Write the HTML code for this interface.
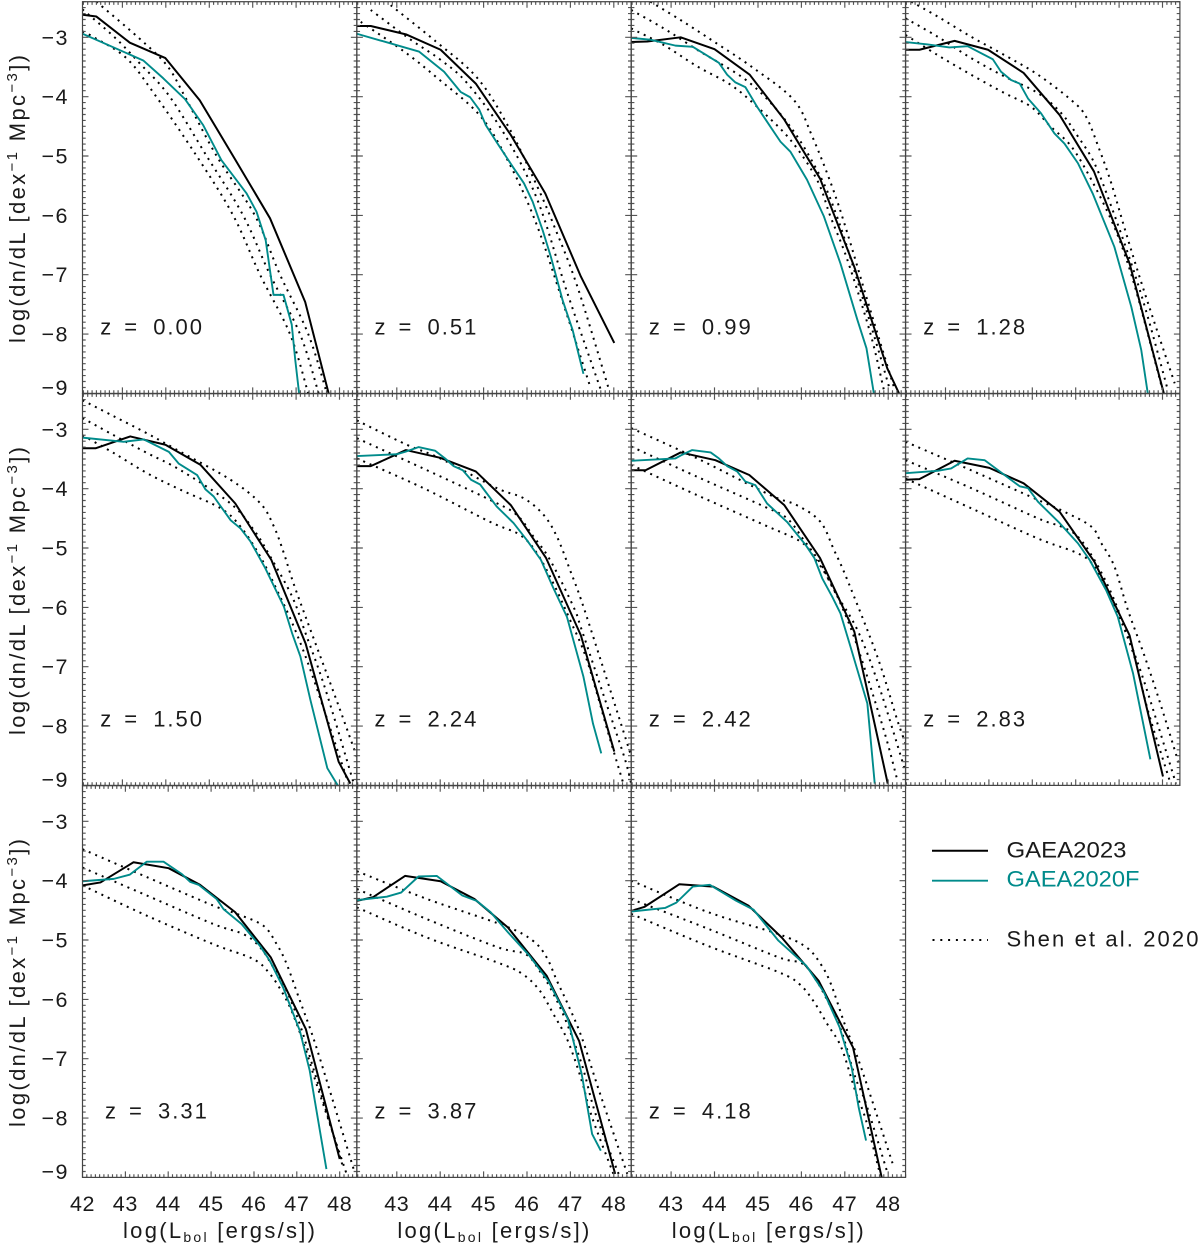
<!DOCTYPE html>
<html lang="en">
<head>
<meta charset="utf-8">
<title>Bolometric luminosity functions: GAEA2023, GAEA2020F and Shen et al. 2020</title>
<style>
html,body{margin:0;padding:0;background:#fff;}
svg{display:block;font-family:"Liberation Sans",sans-serif;}
text{fill:#1a1a1a;}
</style>
</head>
<body>
<svg id="chart" xmlns="http://www.w3.org/2000/svg" width="1200" height="1246" viewBox="0 0 1200 1246">
  <rect width="1200" height="1246" fill="#fff"></rect>
  <g id="panels"></g>
  <g>
    <line x1="932" y1="850.7" x2="988" y2="850.7" stroke="#000" stroke-width="2"></line>
    <text x="1006.5" y="857.7" font-size="22" textLength="120" lengthAdjust="spacingAndGlyphs">GAEA2023</text>
    <line x1="932" y1="880.7" x2="988" y2="880.7" stroke="#008b8b" stroke-width="1.9"></line>
    <text x="1006.5" y="886.7" font-size="22" textLength="133" lengthAdjust="spacingAndGlyphs" style="fill:#008b8b">GAEA2020F</text>
    <line x1="932.5" y1="940" x2="988" y2="940" stroke="#000" stroke-width="2" stroke-dasharray="2 5.8"></line>
    <text x="1006.5" y="946.7" font-size="22" textLength="192" lengthAdjust="spacing">Shen et al. 2020</text>
  </g>
</svg>
<script>
// ---- tick labels ----
const xTickLabels = [42, 43, 44, 45, 46, 47, 48];
const yTickLabels = [-3, -4, -5, -6, -7, -8, -9];

// ---- z = 0.00 ----
const z000Black = [[42.08,-2.62],[42.4,-2.65],[43.17,-3.09],[43.99,-3.35],[44.78,-4.06],[45.59,-5.05],[46.4,-6.05],[47.21,-7.46],[47.75,-9.0]];
const z000Teal = [[42.08,-2.94],[43.48,-3.39],[43.94,-3.69],[44.44,-4.04],[44.86,-4.48],[45.28,-5.07],[45.86,-5.63],[46.09,-5.94],[46.3,-6.42],[46.48,-7.34],[46.71,-7.34],[46.9,-7.84],[46.98,-8.43],[47.07,-9.0]];
const z000ShenLow = [[42.08,-2.9],[42.32,-2.99],[43.09,-3.35],[43.75,-3.97],[44.71,-5],[45.55,-6],[46.17,-7],[46.86,-8],[47.28,-9]];
const z000ShenMid = [[42.08,-2.53],[42.82,-3],[43.4,-3.44],[44.09,-4],[44.94,-5],[45.78,-6],[46.4,-7],[47.09,-8],[47.52,-9]];
const z000ShenTop = [[42.4,-2.4],[43.36,-3],[44.02,-3.47],[44.44,-4],[45.17,-5],[46.05,-6],[46.63,-7],[47.28,-8],[47.71,-9]];

// ---- z = 0.51 ----
const z051Black = [[42.08,-2.81],[42.4,-2.81],[43.21,-2.95],[44.01,-3.21],[44.82,-3.78],[45.63,-4.65],[46.42,-5.63],[47.24,-7.03],[48.01,-8.15]];
const z051Teal = [[42.08,-2.94],[43.51,-3.24],[44.09,-3.58],[44.47,-3.92],[44.69,-4.01],[44.9,-4.22],[45.05,-4.48],[45.32,-4.79],[45.67,-5.18],[45.93,-5.46],[46.13,-5.77],[46.36,-6.25],[46.55,-6.7],[46.82,-7.43],[47.05,-7.93],[47.3,-8.67]];
const z051ShenTop = [[42.86,-2.46],[43.9,-3.07],[44.86,-3.69],[45.59,-4.53],[46.24,-5.52],[46.63,-6.19],[47.16,-7.2],[47.89,-8.94]];
const z051ShenMid = [[42.4,-2.54],[43.32,-3.04],[44.01,-3.38],[44.63,-3.78],[45.47,-4.62],[46.24,-5.74],[46.93,-7.31],[47.7,-8.94]];
const z051ShenLow = [[42.17,-2.74],[43.17,-3.24],[43.94,-3.69],[44.94,-4.34],[45.63,-5.18],[46.24,-6.19],[46.86,-7.54],[47.47,-8.92]];

// ---- z = 0.99 ----
const z099Black = [[42.08,-3.08],[42.45,-3.07],[43.22,-3],[44,-3.2],[44.81,-3.63],[45.61,-4.39],[46.43,-5.38],[47.22,-6.87],[47.98,-8.58],[48.25,-9]];
const z099Teal = [[42.08,-3.01],[42.52,-3.04],[43.1,-3.14],[43.5,-3.16],[44.1,-3.43],[44.29,-3.63],[44.48,-3.76],[44.71,-3.84],[44.98,-4.17],[45.29,-4.51],[45.52,-4.76],[45.75,-4.93],[46.13,-5.4],[46.52,-6.02],[46.9,-6.81],[47.29,-7.76],[47.5,-8.24],[47.67,-9]];
const z099ShenTop = [[42.52,-2.4],[43.22,-2.71],[43.98,-3.07],[44.9,-3.52],[45.83,-4.06],[46.25,-4.67],[46.71,-5.52],[47.06,-6.3],[47.52,-7.43],[48.13,-8.89]];
const z099ShenMid = [[42.08,-2.54],[42.83,-2.85],[43.6,-3.21],[44.83,-3.78],[45.75,-4.51],[46.44,-5.35],[46.82,-6.02],[47.17,-6.81],[47.75,-8.21],[48.02,-8.89]];
const z099ShenLow = [[42.08,-2.85],[42.83,-3.13],[43.6,-3.49],[44.37,-3.8],[44.98,-4.17],[45.75,-4.73],[46.36,-5.4],[46.67,-6.02],[47.06,-6.75],[47.59,-7.99],[47.9,-8.94]];

// ---- z = 1.28 ----
const z128Black = [[42.08,-3.21],[42.4,-3.21],[43.21,-3.06],[43.98,-3.21],[44.8,-3.6],[45.63,-4.31],[46.42,-5.26],[47.24,-6.81],[48.03,-9]];
const z128Teal = [[42.08,-3.08],[42.59,-3.12],[43.09,-3.17],[43.51,-3.15],[44.09,-3.37],[44.28,-3.58],[44.51,-3.72],[44.71,-3.78],[44.9,-4.03],[45.2,-4.28],[45.51,-4.62],[45.74,-4.79],[46.05,-5.12],[46.39,-5.63],[46.89,-6.53],[47.28,-7.54],[47.51,-8.27],[47.66,-9]];
const z128ShenTop = [[42.21,-2.4],[42.82,-2.65],[43.59,-2.99],[44.36,-3.3],[45.13,-3.63],[45.9,-4.06],[46.24,-4.34],[46.55,-4.9],[46.82,-5.46],[47.16,-6.3],[47.59,-7.31],[48.28,-8.83]];
const z128ShenMid = [[42.08,-2.68],[42.82,-2.99],[43.59,-3.35],[44.36,-3.66],[45.13,-3.94],[45.67,-4.28],[46.05,-4.67],[46.43,-5.12],[46.82,-5.85],[47.28,-6.81],[47.66,-7.71],[48.12,-8.94]];
const z128ShenLow = [[42.08,-2.96],[42.82,-3.3],[43.59,-3.63],[44.36,-3.94],[44.97,-4.17],[45.43,-4.51],[45.9,-4.84],[46.36,-5.4],[46.82,-6.08],[47.12,-6.64],[47.43,-7.37],[48.0,-8.94]];

// ---- z = 1.50 ----
const z150Black = [[42.08,-3.32],[42.38,-3.32],[43.18,-3.12],[43.99,-3.26],[44.8,-3.6],[45.6,-4.25],[46.43,-5.2],[47.22,-6.61],[47.98,-8.6],[48.25,-8.97]];
const z150Teal = [[42.08,-3.14],[43.03,-3.21],[43.49,-3.17],[44.07,-3.38],[44.3,-3.58],[44.72,-3.77],[44.91,-4.01],[45.1,-4.13],[45.49,-4.53],[45.72,-4.67],[45.95,-4.89],[46.29,-5.34],[46.72,-5.99],[46.91,-6.44],[47.1,-6.83],[47.33,-7.56],[47.72,-8.71],[47.96,-9]];
const z150ShenTop = [[42.08,-2.51],[42.8,-2.78],[43.57,-3.07],[44.34,-3.38],[45.49,-3.85],[46.18,-4.25],[46.49,-4.64],[46.72,-5.09],[47.02,-5.76],[47.93,-7.56],[48.4,-8.52]];
const z150ShenMid = [[42.08,-2.81],[42.8,-3.1],[43.57,-3.4],[44.34,-3.69],[45.49,-4.25],[46.03,-4.7],[46.41,-5.15],[46.91,-5.82],[47.22,-6.44],[47.68,-7.39],[48.33,-8.97]];
const z150ShenLow = [[42.08,-3.1],[42.8,-3.4],[43.57,-3.74],[44.34,-4.02],[45.26,-4.33],[45.72,-4.64],[46.18,-5.15],[46.56,-5.71],[46.95,-6.33],[47.41,-7.22],[48.18,-8.91]];

// ---- z = 2.24 ----
const z224Black = [[42.08,-3.62],[42.4,-3.62],[43.21,-3.35],[44,-3.48],[44.82,-3.71],[45.63,-4.28],[46.44,-5.17],[47.24,-6.47],[48.01,-8.43]];
const z224Teal = [[42.08,-3.45],[43,-3.42],[43.19,-3.38],[43.5,-3.3],[43.88,-3.36],[44.11,-3.49],[44.31,-3.62],[44.52,-3.69],[44.71,-3.85],[44.92,-3.93],[45.3,-4.3],[45.69,-4.58],[46,-4.87],[46.32,-5.2],[46.61,-5.68],[46.92,-6.16],[47.3,-7.17],[47.52,-7.96],[47.71,-8.46]];
const z224ShenTop = [[42.08,-2.85],[43.23,-3.26],[44,-3.49],[45.3,-3.99],[45.92,-4.16],[46.38,-4.44],[46.69,-4.81],[46.99,-5.37],[47.3,-5.99],[47.99,-7.56],[48.38,-8.46]];
const z224ShenMid = [[42.08,-3.15],[43.61,-3.66],[45.15,-4.19],[45.76,-4.44],[46.15,-4.81],[46.53,-5.2],[47.07,-5.99],[47.26,-6.38],[47.8,-7.56],[48.24,-8.52],[48.4,-8.97]];
const z224ShenLow = [[42.08,-3.49],[43.61,-3.99],[45.15,-4.56],[45.84,-4.78],[46.23,-5.09],[46.61,-5.6],[46.99,-6.21],[47.38,-6.89],[47.92,-8.24],[48.22,-8.97]];

// ---- z = 2.42 ----
const z242Black = [[42.08,-3.69],[42.41,-3.69],[43.22,-3.39],[44.02,-3.52],[44.8,-3.77],[45.61,-4.28],[46.43,-5.17],[47.22,-6.41],[47.99,-8.97]];
const z242Teal = [[42.08,-3.53],[43.1,-3.49],[43.25,-3.43],[43.48,-3.35],[43.91,-3.39],[44.1,-3.49],[44.29,-3.62],[44.52,-3.71],[44.71,-3.88],[44.94,-3.94],[45.21,-4.25],[45.67,-4.56],[46.1,-4.95],[46.3,-5.17],[46.48,-5.51],[46.71,-5.82],[46.9,-6.1],[47.13,-6.66],[47.52,-7.62],[47.69,-8.97]];
const z242ShenTop = [[42.08,-2.98],[43.6,-3.49],[45.29,-4.11],[45.9,-4.28],[46.44,-4.56],[46.75,-5.03],[47.06,-5.54],[47.75,-6.83],[48.21,-7.9],[48.4,-8.29]];
const z242ShenMid = [[42.08,-3.29],[43.6,-3.8],[45.14,-4.3],[45.67,-4.5],[46.06,-4.87],[46.44,-5.26],[46.75,-5.71],[47.29,-6.38],[47.78,-7.31],[48.4,-8.77]];
const z242ShenLow = [[42.08,-3.6],[43.6,-4.11],[45.14,-4.61],[45.98,-4.89],[46.29,-5.15],[46.59,-5.48],[46.9,-5.93],[47.29,-6.66],[47.9,-8.07],[48.21,-8.91]];

// ---- z = 2.83 ----
const z283Black = [[42.08,-3.85],[42.4,-3.84],[43.21,-3.53],[44.01,-3.65],[44.8,-3.91],[45.63,-4.39],[46.43,-5.23],[47.24,-6.47],[48.01,-8.85]];
const z283Teal = [[42.08,-3.74],[42.82,-3.7],[43.13,-3.66],[43.51,-3.49],[43.9,-3.52],[44.36,-3.77],[44.71,-3.96],[44.9,-3.99],[45.13,-4.22],[45.63,-4.58],[46.05,-4.92],[46.32,-5.2],[46.7,-5.71],[46.97,-6.16],[47.32,-7.11],[47.72,-8.56]];
const z283ShenTop = [[42.08,-3.21],[43.59,-3.69],[45.13,-4.19],[45.74,-4.39],[46.36,-4.64],[46.59,-4.92],[46.89,-5.31],[47.2,-6.04],[47.59,-6.83],[47.97,-7.67],[48.4,-8.69]];
const z283ShenMid = [[42.08,-3.52],[43.59,-3.99],[45.13,-4.5],[45.67,-4.64],[46.05,-4.81],[46.43,-5.2],[46.82,-5.76],[47.12,-6.33],[47.59,-7.28],[48.31,-8.97]];
const z283ShenLow = [[42.08,-3.83],[43.59,-4.33],[45.13,-4.84],[46.05,-5.09],[46.43,-5.31],[46.74,-5.76],[46.97,-6.1],[47.35,-6.83],[47.66,-7.73],[48.16,-8.91]];

// ---- z = 3.31 ----
const z331Black = [[42,-4.08],[42.42,-4.03],[43.19,-3.69],[44.01,-3.79],[44.74,-4.07],[45.56,-4.53],[46.39,-5.29],[47.21,-6.5],[48,-8.69]];
const z331Teal = [[42,-4.01],[42.73,-3.97],[43.1,-3.9],[43.5,-3.68],[43.89,-3.68],[44.32,-3.89],[44.51,-4.02],[44.71,-4.07],[45.13,-4.31],[45.29,-4.48],[45.71,-4.73],[46.14,-5.1],[46.37,-5.35],[46.68,-5.8],[47.07,-6.53],[47.3,-7.2],[47.69,-8.86]];
const z331ShenTop = [[42,-3.47],[43.5,-3.94],[45.05,-4.42],[45.6,-4.56],[46.22,-4.76],[46.53,-5.07],[46.76,-5.4],[47.07,-6.02],[47.38,-6.64],[47.77,-7.54],[48.35,-8.92]];
const z331ShenMid = [[42,-3.78],[43.5,-4.25],[45.05,-4.73],[45.75,-4.9],[46.14,-5.12],[46.45,-5.46],[46.76,-5.85],[47.07,-6.42],[47.38,-7.15],[48.08,-8.83]];
const z331ShenLow = [[42,-4.08],[43.5,-4.59],[45.05,-5.07],[45.98,-5.32],[46.37,-5.57],[46.68,-5.91],[46.91,-6.25],[47.22,-6.87],[47.46,-7.43],[48.16,-8.94]];

// ---- z = 3.87 ----
const z387Black = [[42.08,-4.34],[42.45,-4.28],[43.19,-3.92],[44.01,-4.01],[44.79,-4.31],[45.56,-4.79],[46.45,-5.6],[47.2,-6.7],[48.03,-8.94]];
const z387Teal = [[42.08,-4.33],[42.77,-4.27],[43.1,-4.2],[43.5,-3.93],[43.92,-3.92],[44.51,-4.25],[44.84,-4.34],[45.16,-4.53],[45.56,-4.87],[46.05,-5.26],[46.49,-5.69],[46.94,-6.33],[47.26,-7.26],[47.5,-8.27],[47.7,-8.55]];
const z387ShenTop = [[42.08,-3.84],[43.7,-4.31],[45.48,-4.76],[46.13,-5.01],[46.45,-5.29],[46.69,-5.69],[46.94,-6.08],[47.26,-6.64],[47.66,-7.54],[48.31,-8.94]];
const z387ShenMid = [[42.08,-4.14],[43.7,-4.65],[45.32,-5.12],[45.97,-5.24],[46.29,-5.52],[46.53,-5.8],[46.86,-6.3],[47.26,-7.09],[47.58,-7.93],[48.11,-8.94]];
const z387ShenLow = [[42.08,-4.45],[43.7,-4.96],[45.32,-5.38],[45.89,-5.57],[46.29,-5.85],[46.61,-6.25],[46.94,-6.7],[47.26,-7.37],[47.5,-7.99],[47.99,-8.94]];

// ---- z = 4.18 ----
const z418Black = [[42.08,-4.51],[42.39,-4.44],[43.19,-4.06],[43.97,-4.1],[44.78,-4.42],[45.55,-4.96],[46.4,-5.69],[47.19,-6.81],[47.85,-9]];
const z418Teal = [[42.08,-4.52],[42.86,-4.46],[43.12,-4.37],[43.5,-4.1],[43.89,-4.07],[44.5,-4.34],[44.9,-4.49],[45.47,-5.01],[46.11,-5.43],[46.52,-5.88],[46.88,-6.47],[47.16,-7.15],[47.32,-7.82],[47.49,-8.38]];
const z418ShenTop = [[42.08,-4.0],[43.85,-4.53],[45.47,-4.9],[46.11,-5.12],[46.44,-5.4],[46.68,-5.74],[47,-6.42],[47.32,-7.03],[47.73,-7.93],[48.13,-8.83]];
const z418ShenMid = [[42.08,-4.31],[43.85,-4.81],[45.47,-5.29],[46.03,-5.4],[46.35,-5.69],[46.6,-6.02],[46.92,-6.53],[47.24,-7.31],[47.49,-7.76],[47.97,-8.89]];
const z418ShenLow = [[42.08,-4.56],[43.85,-5.1],[45.47,-5.54],[45.95,-5.74],[46.27,-6.02],[46.6,-6.42],[46.92,-6.81],[47.24,-7.54],[47.49,-8.04],[47.81,-8.94]];

// ---- redshift labels in reading order ----
const redshiftLabels = ['0.00','0.51','0.99','1.28','1.50','2.24','2.42','2.83','3.31','3.87','4.18'];
const blackSeries = [z000Black,z051Black,z099Black,z128Black,z150Black,z224Black,z242Black,z283Black,z331Black,z387Black,z418Black];
const tealSeries = [z000Teal,z051Teal,z099Teal,z128Teal,z150Teal,z224Teal,z242Teal,z283Teal,z331Teal,z387Teal,z418Teal];
const shenTopSeries = [z000ShenTop,z051ShenTop,z099ShenTop,z128ShenTop,z150ShenTop,z224ShenTop,z242ShenTop,z283ShenTop,z331ShenTop,z387ShenTop,z418ShenTop];
const shenMidSeries = [z000ShenMid,z051ShenMid,z099ShenMid,z128ShenMid,z150ShenMid,z224ShenMid,z242ShenMid,z283ShenMid,z331ShenMid,z387ShenMid,z418ShenMid];
const shenLowSeries = [z000ShenLow,z051ShenLow,z099ShenLow,z128ShenLow,z150ShenLow,z224ShenLow,z242ShenLow,z283ShenLow,z331ShenLow,z387ShenLow,z418ShenLow];

const NS = 'http://www.w3.org/2000/svg';
const root = document.getElementById('panels');
const PANEL_W = 274.35, PANEL_H = 391.7, ROW_STEP = 392, LEFT = 82.5, TOP = 1.7;
const Y_MIN = -9, Y_MAX = -2.4, X_MAX = 48.4;

function make(tag, attrs, parent) {
  const el = document.createElementNS(NS, tag);
  for (const k in attrs) el.setAttribute(k, attrs[k]);
  parent.appendChild(el);
  return el;
}

function linePath(pts, xf, yf) {
  return pts.map(function (p, i) {
    return (i ? 'L' : 'M') + xf(p[0]).toFixed(2) + ' ' + yf(p[1]).toFixed(2);
  }).join(' ');
}

// The Shen et al. curves are smooth functions, so round the knees between read points.
function smoothPath(pts, xf, yf) {
  const q = pts.map(function (p) { return [xf(p[0]), yf(p[1])]; });
  let d = 'M' + q[0][0].toFixed(2) + ' ' + q[0][1].toFixed(2);
  for (let i = 0; i < q.length - 1; i++) {
    const p0 = q[Math.max(i - 1, 0)], p1 = q[i], p2 = q[i + 1], p3 = q[Math.min(i + 2, q.length - 1)];
    const c1x = p1[0] + (p2[0] - p0[0]) / 6, c1y = p1[1] + (p2[1] - p0[1]) / 6;
    const c2x = p2[0] - (p3[0] - p1[0]) / 6, c2y = p2[1] - (p3[1] - p1[1]) / 6;
    d += 'C' + c1x.toFixed(2) + ' ' + c1y.toFixed(2) + ' ' + c2x.toFixed(2) + ' ' + c2y.toFixed(2) + ' ' + p2[0].toFixed(2) + ' ' + p2[1].toFixed(2);
  }
  return d;
}

function drawPanel(i) {
  const row = Math.floor(i / 4), col = i % 4;
  const left = LEFT + col * PANEL_W, top = TOP + row * ROW_STEP;
  const right = left + PANEL_W, bottom = top + PANEL_H;
  const xMin = (row === 2 && col === 0) ? 42 : 42.08;
  const xf = function (v) { return left + (v - xMin) / (X_MAX - xMin) * PANEL_W; };
  const yf = function (v) { return bottom - (v - Y_MIN) / (Y_MAX - Y_MIN) * PANEL_H; };

  const g = make('g', {}, root);
  
  

  const clipId = 'clip' + i;
  const clip = make('clipPath', { id: clipId }, g);
  make('rect', { x: left, y: top, width: PANEL_W, height: PANEL_H }, clip);

  // dotted Shen et al. 2020 curves
  [shenTopSeries[i], shenMidSeries[i], shenLowSeries[i]].forEach(function (s, k) {
    const d = make('path', { d: smoothPath(s, xf, yf), fill: 'none', stroke: '#000', 'stroke-width': 2, 'stroke-dasharray': '2 5', 'clip-path': 'url(#' + clipId + ')' }, g);
    
    
  });

  const black = make('path', { d: linePath(blackSeries[i], xf, yf), fill: 'none', stroke: '#000', 'stroke-width': 2, 'stroke-linejoin': 'round', 'clip-path': 'url(#' + clipId + ')' }, g);
  
  

  const teal = make('path', { d: linePath(tealSeries[i], xf, yf), fill: 'none', stroke: '#008b8b', 'stroke-width': 1.9, 'stroke-linejoin': 'round', 'clip-path': 'url(#' + clipId + ')' }, g);
  
  

  // frame and ticks
  let t = '';
  for (let v = 42; v <= 48.4001; v += 0.1) {
    if (v < xMin - 0.001) continue;
    const major = Math.abs(v - Math.round(v)) < 0.001;
    const len = major ? 6 : 3.2;
    const x = xf(v).toFixed(1);
    t += 'M' + x + ' ' + bottom + 'V' + (bottom - len) + 'M' + x + ' ' + top + 'V' + (top + len);
  }
  for (let v = -9; v <= -2.3999; v += 0.1) {
    const major = Math.abs(v - Math.round(v)) < 0.001;
    const len = major ? 6 : 3.2;
    const y = yf(v).toFixed(1);
    t += 'M' + left + ' ' + y + 'H' + (left + len) + 'M' + right + ' ' + y + 'H' + (right - len);
  }
  const ticks = make('path', { d: t, fill: 'none', stroke: '#555', 'stroke-width': 1.15 }, g);
  
  

  const frame = make('rect', { x: left, y: top, width: PANEL_W, height: PANEL_H, fill: 'none', stroke: '#444', 'stroke-width': 1.2 }, g);
  
  

  // redshift label
  const zStart = (i === 8) ? 105 : left + 17.7;
  const zBase = bottom - 59;
  const zl = make('text', { x: zStart, y: zBase, 'font-size': 22 }, g);
  
  
  const a = make('tspan', { x: zStart }, zl); a.textContent = 'z';
  const b = make('tspan', { x: zStart + 24 }, zl); b.textContent = '=';
  const c = make('tspan', { x: zStart + 53, 'letter-spacing': 2 }, zl); c.textContent = redshiftLabels[i];

  // y tick labels
  if (col === 0) {
    yTickLabels.forEach(function (v) {
      const off = v === -9 ? 1.5 : 7.5;
      const lab = make('text', { x: 69, y: yf(v) + off, 'font-size': 21.5, 'text-anchor': 'end', 'letter-spacing': 1.5 }, g);
      
      
      lab.textContent = '\u2212' + Math.abs(v);
    });
    const cy = row * ROW_STEP + 199;
    const yt = make('text', { transform: 'translate(25 ' + cy + ') rotate(-90)', 'text-anchor': 'middle', 'font-size': 22, textLength: 288, lengthAdjust: 'spacing' }, g);
    
    
    const p1 = make('tspan', {}, yt); p1.textContent = 'log(dn/dL [dex';
    const p2 = make('tspan', { dy: -8, 'font-size': 15 }, yt); p2.textContent = '\u22121';
    const p3 = make('tspan', { dy: 8 }, yt); p3.textContent = '  Mpc';
    const p4 = make('tspan', { dy: -8, 'font-size': 15 }, yt); p4.textContent = '\u22123';
    const p5 = make('tspan', { dy: 8 }, yt); p5.textContent = '])';
  }

  // x tick labels and title
  if (row === 2) {
    xTickLabels.forEach(function (v) {
      if (col > 0 && v === 42) return;
      const lab = make('text', { x: xf(v), y: 1211, 'font-size': 21.5, 'text-anchor': 'middle', 'letter-spacing': 0.6 }, g);
      
      
      lab.textContent = v;
    });
    const xt = make('text', { x: left + 136.5, y: 1238, 'font-size': 22, 'text-anchor': 'middle', textLength: 192, lengthAdjust: 'spacing' }, g);
    
    
    const q1 = make('tspan', {}, xt); q1.textContent = 'log(L';
    const q2 = make('tspan', { dy: 4, 'font-size': 14 }, xt); q2.textContent = 'bol';
    const q3 = make('tspan', { dy: -4 }, xt); q3.textContent = ' [ergs/s])';
  }
}

redshiftLabels.forEach(function (_, i) { drawPanel(i); });
</script>
</body>
</html>
